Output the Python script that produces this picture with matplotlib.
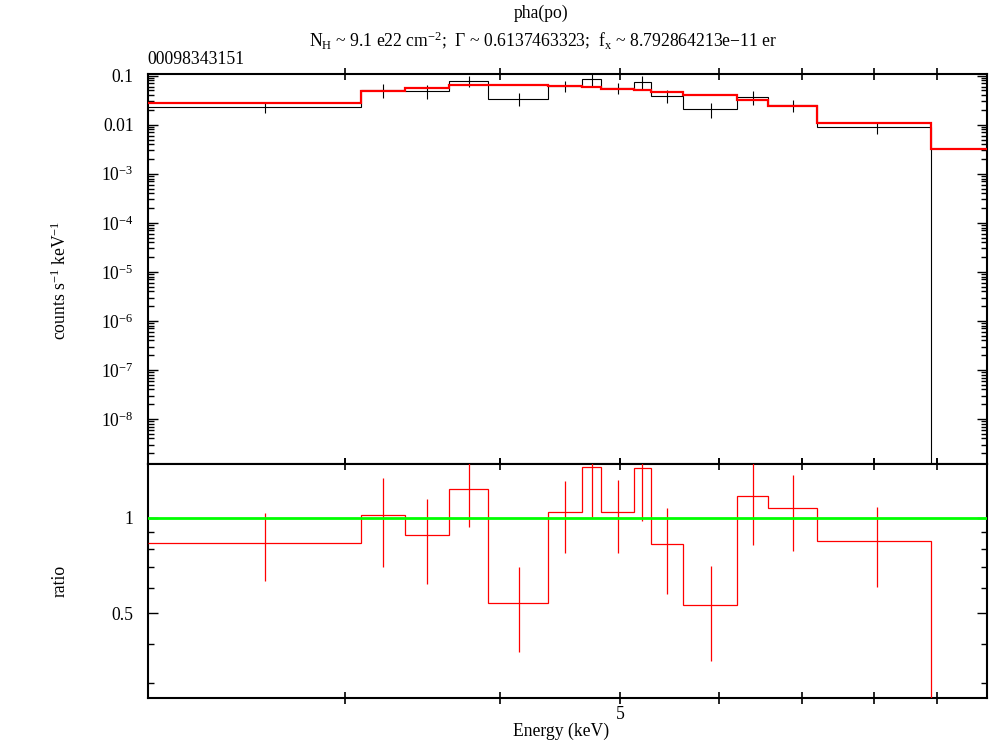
import numpy as np
import matplotlib
matplotlib.use("Agg")
import matplotlib.pyplot as plt
from matplotlib.ticker import FixedLocator, FixedFormatter, NullFormatter

plt.rcParams['font.family'] = ['Liberation Serif', 'DejaVu Serif']
plt.rcParams['mathtext.fontset'] = 'custom'
plt.rcParams['mathtext.rm'] = 'Liberation Serif'
plt.rcParams['mathtext.it'] = 'Liberation Serif:italic'
plt.rcParams['mathtext.bf'] = 'Liberation Serif:bold'
plt.rcParams['axes.unicode_minus'] = True

# ---- data (energy bins in keV) ----
bin_edges = [2.08, 3.09, 3.35, 3.64, 3.91, 4.37, 4.66, 4.82, 5.13, 5.29,
             5.62, 6.21, 6.58, 7.20, 8.90, 9.90]
data_rate = [0.02274, 0.05042, 0.04875, 0.07851, 0.03420, 0.06307, 0.08508,
             0.05687, 0.07437, 0.03894, 0.02096, 0.03669, 0.02546, 0.00897, 0.0]
data_err = [0.00553, 0.01582, 0.01460, 0.01928, 0.01027, 0.01634, 0.02599,
            0.01494, 0.02362, 0.01183, 0.00694, 0.01093, 0.00692, 0.00255, 0.0]
model_rate = [0.02723, 0.04943, 0.05508, 0.06342, 0.06340, 0.06053, 0.05880,
              0.05432, 0.05179, 0.04714, 0.03963, 0.03133, 0.02362, 0.01063, 0.003237]
ratio = [0.835, 1.020, 0.885, 1.238, 0.5395, 1.042, 1.447, 1.047, 1.436,
         0.826, 0.529, 1.171, 1.078, 0.844, 0.0]
ratio_err = [0.203, 0.32, 0.265, 0.304, 0.162, 0.27, 0.442, 0.275, 0.456,
             0.251, 0.175, 0.349, 0.293, 0.24, 0.0]

top_ytick_vals = [0.1, 0.01, 1e-3, 1e-4, 1e-5, 1e-6, 1e-7, 1e-8]
top_ytick_labels = ['0.1', '0.01', '10$^{-3}$', '10$^{-4}$', '10$^{-5}$',
                    '10$^{-6}$', '10$^{-7}$', '10$^{-8}$']
x_tick_vals = [3, 4, 5, 6, 7, 8, 9]
x_tick_labels = ['', '', '5', '', '', '', '']
ratio_tick_vals = [0.5, 1.0]
ratio_tick_labels = ['0.5', '1']
ratio_minor_vals = [0.3, 0.4, 0.6, 0.7, 0.8, 0.9]

title1 = 'pha(po)'
title2 = (r'N$_\mathrm{H}$ ~ 9.1 e22 cm$^{-2}$;  Γ ~ 0.6137463323;  '
          r'f$_\mathrm{x}$ ~ 8.792864213e−11 er')
obs_id = '00098343151'

edges = np.array(bin_edges)
centers = 0.5 * (edges[:-1] + edges[1:])
d = np.array(data_rate)
de = np.array(data_err)
r = np.array(ratio)
re_ = np.array(ratio_err)
good = d > 0

fig = plt.figure(figsize=(9.9, 7.42), dpi=100)
L, R = 147.7 / 990, 987.3 / 990
ax1 = fig.add_axes([L, 1 - 463.7 / 742, R - L, (463.7 - 74) / 742])
ax2 = fig.add_axes([L, 1 - 698 / 742, R - L, (698 - 463.7) / 742])

FS = 12.7

# top panel
ax1.set_xscale('log')
ax1.set_yscale('log')
ax1.stairs(d, edges, baseline=None, color='black', lw=0.8, zorder=2)
ax1.errorbar(centers[good], d[good], yerr=de[good], fmt='none',
             ecolor='black', elinewidth=0.8, zorder=2)
ax1.stairs(model_rate, edges, baseline=None, color='#ff0000', lw=1.6, zorder=3)
ax1.set_xlim(2.08, 9.88)
ax1.set_ylim(1.225e-9, 0.1083)
ax1.yaxis.set_major_locator(FixedLocator(top_ytick_vals))
ax1.yaxis.set_major_formatter(FixedFormatter(top_ytick_labels))
minor = [m * 10.0 ** e for e in range(-10, 0) for m in range(2, 10)]
ax1.yaxis.set_minor_locator(FixedLocator(minor))
ax1.yaxis.set_minor_formatter(NullFormatter())
ax1.set_ylabel('counts s$^{-1}$ keV$^{-1}$', fontsize=FS)
ax1.yaxis.set_label_coords((60 - 147.7) / 839.6, (463.7 - 280) / 389.7)

# bottom panel
ax2.set_xscale('log')
ax2.set_yscale('log')
ax2.axhline(1.0, color='#00ff00', lw=2.0, zorder=4)
ax2.stairs(r, edges, baseline=None, color='#ff0000', lw=0.9, zorder=3)
ax2.errorbar(centers[good], r[good], yerr=re_[good], fmt='none',
             ecolor='#ff0000', elinewidth=0.9, zorder=3)
ax2.set_xlim(2.08, 9.88)
ax2.set_ylim(0.2694, 1.485)
ax2.yaxis.set_major_locator(FixedLocator(ratio_tick_vals))
ax2.yaxis.set_major_formatter(FixedFormatter(ratio_tick_labels))
ax2.yaxis.set_minor_locator(FixedLocator(ratio_minor_vals))
ax2.yaxis.set_minor_formatter(NullFormatter())
ax2.set_ylabel('ratio', fontsize=FS)
ax2.yaxis.set_label_coords((60 - 147.7) / 839.6, 0.5)
ax2.set_xlabel('Energy (keV)', fontsize=FS)
ax2.xaxis.set_label_coords((561.5 - 147.7) / 839.6, (698 - 731) / 234.3)
ax2.xaxis.label.set_va('center')
ax2.yaxis.label.set_va('center')
ax1.yaxis.label.set_va('center')

for ax in (ax1, ax2):
    ax.xaxis.set_major_locator(FixedLocator(x_tick_vals))
    ax.xaxis.set_major_formatter(FixedFormatter(x_tick_labels))
    ax.xaxis.set_minor_locator(FixedLocator([]))
    ax.tick_params(axis='x', which='major', direction='inout', length=8,
                   width=1.2, top=True, bottom=True, labelsize=FS, pad=1.5)
    ax.tick_params(axis='y', which='major', direction='in', length=7,
                   width=1.0, left=True, right=True, labelsize=FS, pad=10)
    ax.tick_params(axis='y', which='minor', direction='in', length=4,
                   width=1.0, left=True, right=True)
    for s in ax.spines.values():
        s.set_linewidth(1.5)
ax1.tick_params(axis='x', labelbottom=False)

fig.text(541 / 990, 1 - 13 / 742, title1, ha='center', va='center', fontsize=FS)
fig.text(543 / 990, 1 - 40 / 742, title2, ha='center', va='center', fontsize=FS)
fig.text(L, 1 - 60 / 742, obs_id, ha='left', va='center', fontsize=FS)

fig.savefig('out.png', dpi=100)
